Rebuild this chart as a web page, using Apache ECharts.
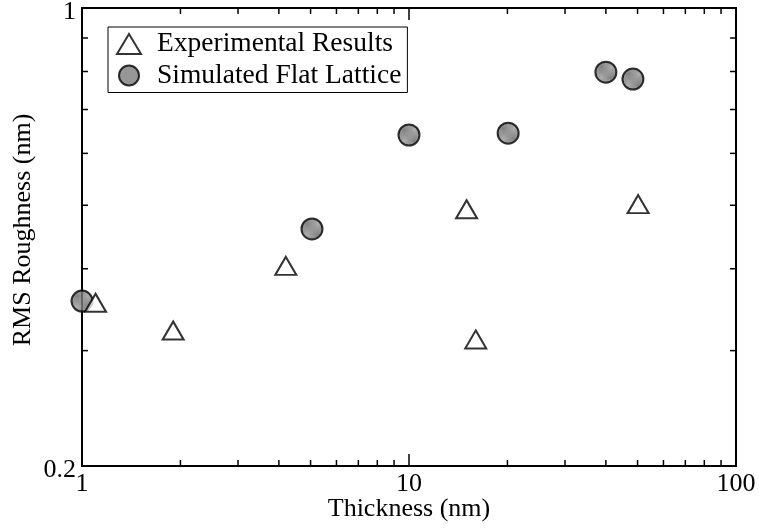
<!DOCTYPE html>
<html><head><meta charset="utf-8">
<script src="https://cdn.jsdelivr.net/npm/echarts@6/dist/echarts.min.js"></script>
<style>html,body{margin:0;padding:0;background:#fff}#c{width:759px;height:529px}</style>
</head><body><div id="c"></div>
<script>
// ---- data ----
const experimentalX = [1.1, 1.9, 4.2, 15.0, 16.0, 50.2];
const experimentalY = [0.355, 0.322, 0.404, 0.493, 0.312, 0.502];
const simulatedX = [1.0, 5.05, 10.0, 20.1, 40.0, 48.4];
const simulatedY = [0.357, 0.46, 0.64, 0.644, 0.798, 0.779];
const xTickLabels = ['1', '10', '100'];
const yTickLabels = ['0.2', '1'];
const xMinorTicks = [2, 3, 4, 5, 6, 7, 8, 9, 20, 30, 40, 50, 60, 70, 80, 90];
const xMajorTicks = [10];
const yMinorTicks = [0.3, 0.4, 0.5, 0.6, 0.7, 0.8, 0.9];
const seriesNames = ['Experimental Results', 'Simulated Flat Lattice'];

const FONT = '"Liberation Serif", "Times New Roman", serif';
const X_MIN = 1, X_MAX = 100, Y_MIN = 0.2, Y_MAX = 1;

// dithered grey pattern
const pat = document.createElement('canvas');
pat.width = 2; pat.height = 2;
const pc = pat.getContext('2d');
pc.fillStyle = '#9a9a9a'; pc.fillRect(0, 0, 2, 2);
pc.fillStyle = '#626262'; pc.fillRect(0, 0, 1, 1); pc.fillRect(1, 1, 1, 1);
const greyFill = { image: pat, repeat: 'repeat' };

function zip(a, b) { return a.map((v, i) => [v, b[i]]); }

function xTickRender(len) {
  return function (params, api) {
    const v = api.value(0);
    const b = api.coord([v, Y_MIN]);
    const t = api.coord([v, Y_MAX]);
    const st = { stroke: '#000', lineWidth: 1.5 };
    return { type: 'group', children: [
      { type: 'line', shape: { x1: b[0], y1: b[1], x2: b[0], y2: b[1] - len }, style: st },
      { type: 'line', shape: { x1: t[0], y1: t[1], x2: t[0], y2: t[1] + len }, style: st }
    ]};
  };
}
function yTickRender(len) {
  return function (params, api) {
    const v = api.value(1);
    const l = api.coord([X_MIN, v]);
    const r = api.coord([X_MAX, v]);
    const st = { stroke: '#000', lineWidth: 1.5 };
    return { type: 'group', children: [
      { type: 'line', shape: { x1: l[0], y1: l[1], x2: l[0] + len, y2: l[1] }, style: st },
      { type: 'line', shape: { x1: r[0], y1: r[1], x2: r[0] - len, y2: r[1] }, style: st }
    ]};
  };
}

const chart = echarts.init(document.getElementById('c'), null, { renderer: 'canvas' });
chart.setOption({
  animation: false,
  backgroundColor: '#fff',
  grid: {
    left: 82, right: 23, top: 8, bottom: 63,
    outerBoundsMode: 'none', containLabel: false,
    show: true, borderColor: '#000', borderWidth: 2, backgroundColor: 'transparent'
  },
  xAxis: {
    type: 'log', logBase: 10, min: X_MIN, max: X_MAX,
    name: 'Thickness (nm)', nameLocation: 'middle', nameGap: 30, nameMoveOverlap: false,
    nameTextStyle: { fontFamily: FONT, fontSize: 26, color: '#000' },
    axisLine: { show: false }, axisTick: { show: false }, splitLine: { show: false },
    axisLabel: {
      fontFamily: FONT, fontSize: 26, color: '#000', margin: 5,
      formatter: function (v) {
        for (const s of xTickLabels) { if (Math.abs(v - parseFloat(s)) < 1e-6 * parseFloat(s)) return s; }
        return '';
      }
    }
  },
  yAxis: {
    type: 'log', logBase: 10, min: Y_MIN, max: Y_MAX,
    name: 'RMS Roughness (nm)', nameLocation: 'middle', nameGap: 46, nameMoveOverlap: false,
    nameTextStyle: { fontFamily: FONT, fontSize: 26, color: '#000', padding: [0, 0, 0, 14] },
    axisLine: { show: false }, axisTick: { show: false }, splitLine: { show: false },
    axisLabel: {
      fontFamily: FONT, fontSize: 26, color: '#000', margin: 6,
      showMinLabel: true, showMaxLabel: true,
      formatter: function (v) {
        for (const s of yTickLabels) { if (Math.abs(v - parseFloat(s)) < 1e-6) return '{lb|' + s + '}'; }
        return '';
      },
      rich: { lb: { fontFamily: FONT, fontSize: 26, color: '#000', padding: [8, 0, 0, 0] } }
    }
  },
  legend: {
    orient: 'vertical', left: 108, top: 27,
    data: seriesNames,
    backgroundColor: '#fff', borderColor: '#000', borderWidth: 1,
    padding: [3, 6, 3, 8],
    itemWidth: 24, itemHeight: 20, itemGap: 3.5,
    textStyle: { fontFamily: FONT, fontSize: 27.5, color: '#000', padding: [0, 0, 0, 11] }
  },
  series: [
    {
      name: seriesNames[0], type: 'scatter', data: zip(experimentalX, experimentalY),
      symbol: 'triangle', symbolSize: [21, 18], z: 5,
      itemStyle: { color: '#fff', borderColor: '#000', borderWidth: 2 }
    },
    {
      name: seriesNames[1], type: 'scatter', data: zip(simulatedX, simulatedY),
      symbol: 'circle', symbolSize: 21, z: 4,
      itemStyle: { color: greyFill, borderColor: '#000', borderWidth: 2 }
    },
    { type: 'custom', silent: true, clip: false, renderItem: xTickRender(6), data: xMinorTicks.map(v => [v, Y_MIN]), z: 3 },
    { type: 'custom', silent: true, clip: false, renderItem: xTickRender(12), data: xMajorTicks.map(v => [v, Y_MIN]), z: 3 },
    { type: 'custom', silent: true, clip: false, renderItem: yTickRender(6), data: yMinorTicks.map(v => [X_MIN, v]), z: 3 }
  ]
});
</script></body></html>
